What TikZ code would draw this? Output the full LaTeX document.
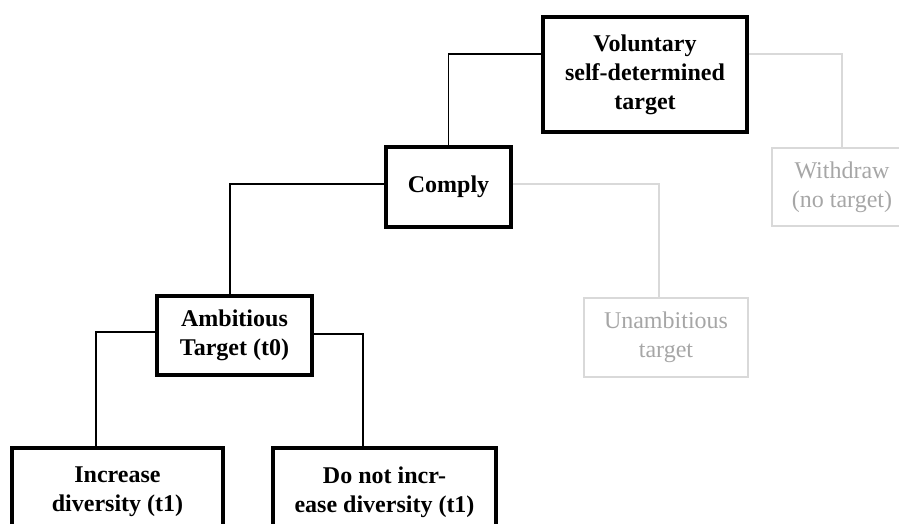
\documentclass[tikz,border=0pt]{standalone}
\usepackage{fontspec}
\setmainfont{Liberation Serif}
\usepackage{tikz}

\tikzset{
  chosen/.style={draw=black,line width=3.5pt,rectangle,inner sep=0pt,align=center,
    font=\fontsize{24}{29}\selectfont\bfseries},
  dropped/.style={draw=black!15,line width=2pt,rectangle,inner sep=0pt,align=center,
    text=black!35,font=\fontsize{24}{29}\selectfont},
  link/.style={draw=black,line width=1.6pt},
  droplink/.style={draw=black!15,line width=2pt}
}

\begin{document}
\begin{tikzpicture}[x=1pt,y=-1pt]
    \useasboundingbox (0,0) rectangle (899,524);
    \clip (0,0) rectangle (899,524);

    % first decision
    \node[chosen,minimum width=204pt,minimum height=115pt] (vol) at (645,74.5)
      {Voluntary\\self-determined\\target};
    \node[dropped,minimum width=140pt,minimum height=78pt] (withdraw) at (842,187)
      {Withdraw\\(no target)};

    % second decision
    \node[chosen,minimum width=125pt,minimum height=80pt] (comply) at (448.5,187)
      {Comply};
    \node[dropped,minimum width=164pt,minimum height=79pt] (unamb) at (666,337.5)
      {Unambitious\\target};

    % third decision
    \node[chosen,minimum width=155pt,minimum height=79pt] (amb) at (234.5,335.5)
      {Ambitious\\Target (t0)};

    % outcomes
    \node[chosen,minimum width=211pt,minimum height=88pt] (inc) at (117.5,492)
      {Increase\\diversity (t1)};
    \node[chosen,minimum width=223pt,minimum height=88pt] (noinc) at (384.5,492)
      {Do not incr-\\ease diversity (t1)};

    \draw[link] ([yshift=20.5pt]vol.west) -| (comply.north);
    \draw[droplink] ([yshift=20.5pt]vol.east) -| (withdraw.north);

    \draw[link] ([yshift=3pt]comply.west) -| ([xshift=-4.5pt]amb.north);
    \draw[droplink] ([yshift=3pt]comply.east) -| ([xshift=-7pt]unamb.north);

    \draw[link] ([yshift=3.5pt]amb.west) -| ([xshift=-21.5pt]inc.north);
    \draw[link] ([yshift=1.5pt]amb.east) -| ([xshift=-21.5pt]noinc.north);
\end{tikzpicture}
\end{document}
